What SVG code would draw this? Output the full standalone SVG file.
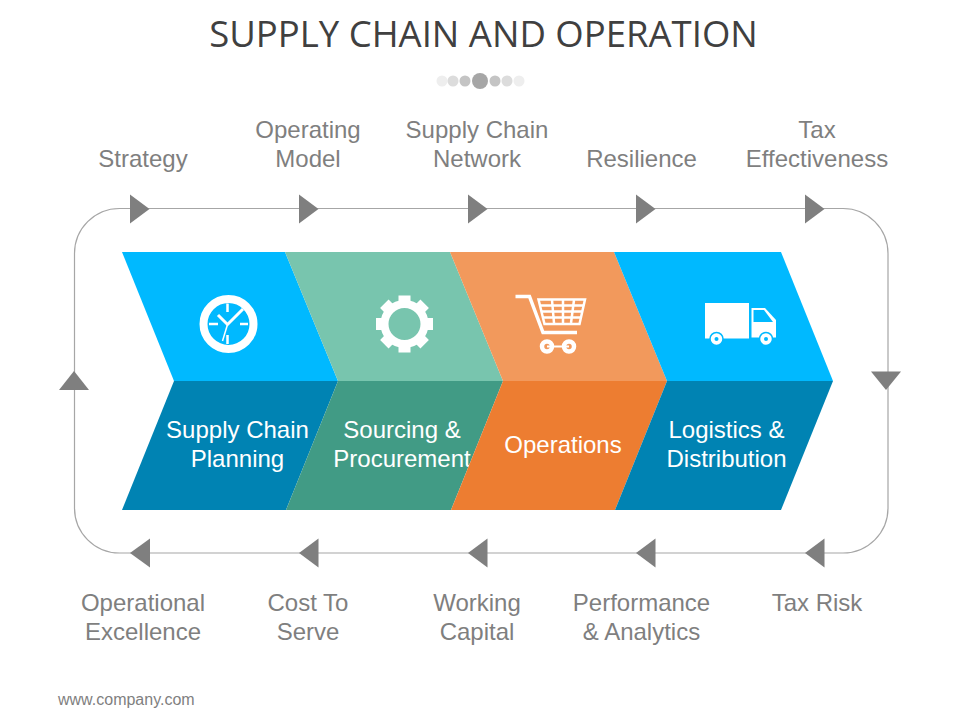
<svg xmlns="http://www.w3.org/2000/svg" width="960" height="720" viewBox="0 0 960 720">
<style>
.t{font-family:"Liberation Sans",Arial,sans-serif;font-size:24px;text-anchor:middle}
.g{fill:#7f7f7f}
.w{fill:#fff}
.a{fill:#7f7f7f}
.ic{fill:#fff}
</style>
<rect width="960" height="720" fill="#fff"/>
<g id="title">
<text x="483.500" y="46.500" text-anchor="middle" font-family="'Open Sans',sans-serif" font-size="36.500" fill="#404040">SUPPLY CHAIN AND OPERATION</text>
<circle cx="442" cy="81" r="5.500" fill="#eeeeee"/><circle cx="453" cy="81" r="5.500" fill="#dcdcdc"/><circle cx="465" cy="81" r="5.500" fill="#c4c4c4"/><circle cx="480" cy="81" r="8" fill="#a6a6a6"/><circle cx="495" cy="81" r="5.500" fill="#c4c4c4"/><circle cx="507" cy="81" r="5.500" fill="#dcdcdc"/><circle cx="519" cy="81" r="5.500" fill="#eeeeee"/>
</g>
<g id="connectors">
<rect x="74.500" y="208.500" width="813.500" height="344.500" rx="45" ry="45" fill="none" stroke="#a6a6a6" stroke-width="1.200"/>
<g class="a">
<path d="M130 194.500L149.500 209L130 223.500Z"/><path d="M299 194.500L318.500 209L299 223.500Z"/><path d="M468 194.500L487.500 209L468 223.500Z"/><path d="M636 194.500L655.500 209L636 223.500Z"/><path d="M805 194.500L824.500 209L805 223.500Z"/>
<path d="M130 553L150 538.500L150 567.500Z"/><path d="M299 553L318.500 538.500L318.500 567.500Z"/><path d="M468 553L487.500 538.500L487.500 567.500Z"/><path d="M636 553L655.500 538.500L655.500 567.500Z"/><path d="M805 553L824.500 538.500L824.500 567.500Z"/>
<path d="M59 390L74 371L89 390Z"/><path d="M871 371.500L901 371.500L886 390Z"/>
</g>
</g>
<g id="node-planning">
<path d="M122 252H285L338 381H174Z" fill="#00b9ff"/>
<path d="M174 381H338L286 510H122Z" fill="#0083b3"/>
<g id="icon-clock">
<circle cx="228.500" cy="324" r="25" fill="none" stroke="#fff" stroke-width="8"/>
<path d="M227.500 303.500V312M227.500 335V344M209 324H218M240 324H248" stroke="#fff" stroke-width="2.500" fill="none"/>
<path d="M218 315L227.500 324.500L243 309" stroke="#fff" stroke-width="3" fill="none"/>
<path d="M227.500 324.500L222.500 341" stroke="#fff" stroke-width="1.500" fill="none"/>
</g>
<text class="t w" x="237.500" y="438">Supply Chain</text><text class="t w" x="237.500" y="467">Planning</text>
</g>
<g id="node-sourcing">
<path d="M285 252H450L503 381H338Z" fill="#78c5ae"/>
<path d="M338 381H503L451 510H286Z" fill="#419b85"/>
<g id="icon-gear" transform="translate(404.500 324)">
<circle r="20" fill="none" stroke="#fff" stroke-width="8"/>
<g class="ic"><rect x="-6" y="-28.500" width="12" height="9"/><rect x="-6" y="-28.500" width="12" height="9" transform="rotate(45)"/><rect x="-6" y="-28.500" width="12" height="9" transform="rotate(90)"/><rect x="-6" y="-28.500" width="12" height="9" transform="rotate(135)"/><rect x="-6" y="-28.500" width="12" height="9" transform="rotate(180)"/><rect x="-6" y="-28.500" width="12" height="9" transform="rotate(225)"/><rect x="-6" y="-28.500" width="12" height="9" transform="rotate(270)"/><rect x="-6" y="-28.500" width="12" height="9" transform="rotate(315)"/></g>
</g>
<text class="t w" x="402" y="438">Sourcing &amp;</text><text class="t w" x="402" y="467">Procurement</text>
</g>
<g id="node-operations">
<path d="M450 252H614L667 381H503Z" fill="#f2995c"/>
<path d="M503 381H667L615 510H451Z" fill="#ed7d31"/>
<g id="icon-cart" fill="none" stroke="#fff">
<path d="M515.500 296.500H529.500L543 332.500H577" stroke-width="3.500"/>
<path d="M538.500 299.500H585L579.500 324H544.500Z" stroke-width="2.500"/>
<path d="M540 305.500H583.500M541.500 311.500H582M543 317.500H581M552 300L554 323M563 300V323M574 300L571 323" stroke-width="2.500"/>
<path d="M547 346.500H569" stroke-width="2"/>
<circle cx="547" cy="346.500" r="5" stroke-width="4.500"/><circle cx="569" cy="346.500" r="5" stroke-width="4.500"/>
</g>
<text class="t w" x="563" y="453">Operations</text>
</g>
<g id="node-logistics">
<path d="M614 252H781L833 381H667Z" fill="#00b9ff"/>
<path d="M667 381H833L781 510H615Z" fill="#0083b3"/>
<g id="icon-truck">
<rect x="705" y="303" width="44" height="35.500" fill="#fff"/>
<path d="M751.500 308H765L776 320V337.500H751.500Z" fill="#fff"/>
<path d="M753.500 310H764L773 322H753.500Z" fill="#00b9ff"/>
<circle cx="716.500" cy="339" r="6.500" fill="#fff" stroke="#00b9ff" stroke-width="1.500"/><circle cx="716.500" cy="339" r="2" fill="#00b9ff"/>
<circle cx="766" cy="339" r="6.500" fill="#fff" stroke="#00b9ff" stroke-width="1.500"/><circle cx="766" cy="339" r="2" fill="#00b9ff"/>
</g>
<text class="t w" x="726.500" y="438">Logistics &amp;</text><text class="t w" x="726.500" y="467">Distribution</text>
</g>
<g id="label-strategy"><text class="t g" x="143" y="167">Strategy</text></g>
<g id="label-operating-model"><text class="t g" x="308" y="138">Operating</text><text class="t g" x="308" y="167">Model</text></g>
<g id="label-network"><text class="t g" x="477" y="138">Supply Chain</text><text class="t g" x="477" y="167">Network</text></g>
<g id="label-resilience"><text class="t g" x="641.500" y="167">Resilience</text></g>
<g id="label-tax-effectiveness"><text class="t g" x="817" y="138">Tax</text><text class="t g" x="817" y="167">Effectiveness</text></g>
<g id="label-excellence"><text class="t g" x="143" y="611">Operational</text><text class="t g" x="143" y="640">Excellence</text></g>
<g id="label-cost"><text class="t g" x="308" y="611">Cost To</text><text class="t g" x="308" y="640">Serve</text></g>
<g id="label-capital"><text class="t g" x="477" y="611">Working</text><text class="t g" x="477" y="640">Capital</text></g>
<g id="label-performance"><text class="t g" x="641.500" y="611">Performance</text><text class="t g" x="641.500" y="640">&amp; Analytics</text></g>
<g id="label-tax-risk"><text class="t g" x="817" y="611">Tax Risk</text></g>
<text x="58" y="705" font-family="'Liberation Sans',Arial,sans-serif" font-size="16" fill="#7f7f7f">www.company.com</text>
</svg>
